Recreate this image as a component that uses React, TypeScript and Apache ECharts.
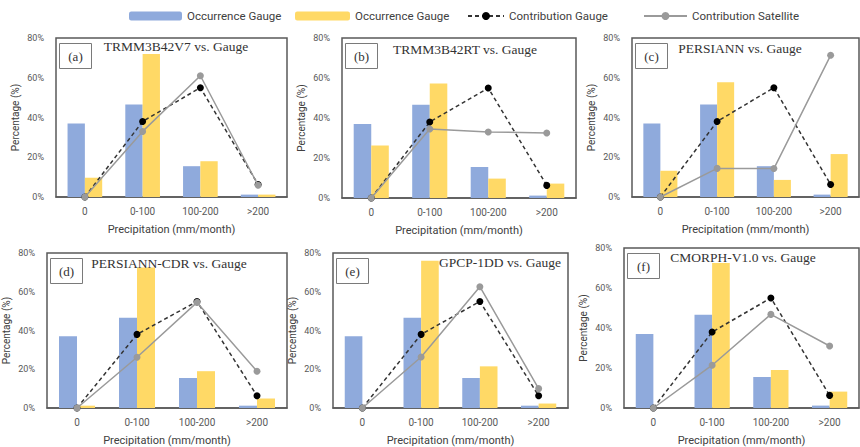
import React, { useEffect, useRef } from 'react';
import * as echarts from 'echarts';

const CATEGORIES = ['0', '0-100', '100-200', '>200'];

const OCCURRENCE_GAUGE = [37, 46.6, 15.5, 1.2];
const CONTRIBUTION_GAUGE = [0, 38, 55, 6.3];

const OCC_SAT_A = [9.7, 72, 18, 1.2];
const OCC_SAT_B = [26.3, 57.3, 9.7, 7.2];
const OCC_SAT_C = [13.2, 57.7, 8.6, 21.6];
const OCC_SAT_D = [1.2, 72.5, 19, 4.9];
const OCC_SAT_E = [0, 76, 21.5, 2.3];
const OCC_SAT_F = [0, 72.5, 19, 8.2];

const CONTRIB_SAT_A = [0, 33, 61, 5.9];
const CONTRIB_SAT_B = [0, 34.5, 33, 32.5];
const CONTRIB_SAT_C = [0, 14.4, 14.3, 71.3];
const CONTRIB_SAT_D = [0, 26.2, 54.5, 19];
const CONTRIB_SAT_E = [0, 26.3, 62.6, 10];
const CONTRIB_SAT_F = [0, 21.4, 46.8, 31];

const PANEL_TAGS = ['(a)', '(b)', '(c)', '(d)', '(e)', '(f)'];
const PANEL_TITLES = [
  'TRMM3B42V7 vs. Gauge',
  'TRMM3B42RT vs. Gauge',
  'PERSIANN vs. Gauge',
  'PERSIANN-CDR vs. Gauge',
  'GPCP-1DD vs. Gauge',
  'CMORPH-V1.0 vs. Gauge',
];

const SERIES_NAMES = ['Occurrence Gauge', 'Occurrence Satellite', 'Contribution Gauge', 'Contribution Satellite'];
const LEGEND_LABELS = ['Occurrence Gauge', 'Occurrence Gauge', 'Contribution Gauge', 'Contribution Satellite'];

const Y_AXIS_TITLE = 'Percentage (%)';
const X_AXIS_TITLE = 'Precipitation (mm/month)';

const OCC_SAT = [OCC_SAT_A, OCC_SAT_B, OCC_SAT_C, OCC_SAT_D, OCC_SAT_E, OCC_SAT_F];
const CONTRIB_SAT = [CONTRIB_SAT_A, CONTRIB_SAT_B, CONTRIB_SAT_C, CONTRIB_SAT_D, CONTRIB_SAT_E, CONTRIB_SAT_F];

// layout (pixels)
const GRIDS = [
  { left: 56, top: 38, width: 231, height: 159 },
  { left: 342, top: 38, width: 234, height: 160 },
  { left: 632, top: 38, width: 227, height: 159 },
  { left: 47, top: 253, width: 240, height: 159 },
  { left: 333, top: 253, width: 235, height: 159 },
  { left: 624, top: 248, width: 235, height: 166 },
];
const TITLE_POS = [
  [176, 46],
  [465, 49],
  [740, 48],
  [169, 263],
  [500, 262],
  [743, 257],
];

const BLUE = '#8FAADC';
const YELLOW = '#FFD966';
const SANS = 'Roboto, "Liberation Sans", sans-serif';
const SERIF = '"Liberation Serif", "DejaVu Serif", serif';

export default function App() {
  const ref = useRef<HTMLDivElement>(null);

  useEffect(() => {
    if (!ref.current) return;
    const chart = echarts.init(ref.current, null, { renderer: 'svg' });

    const grid: any[] = [];
    const xAxis: any[] = [];
    const yAxis: any[] = [];
    const series: any[] = [];
    const graphic: any[] = [];

    GRIDS.forEach((g, i) => {
      grid.push({
        ...g,
        show: true,
        borderColor: '#5a5a5a',
        borderWidth: 1.5,
        backgroundColor: 'transparent',
      });
      xAxis.push({
        type: 'category',
        gridIndex: i,
        data: CATEGORIES,
        axisLine: { show: true, lineStyle: { color: '#5a5a5a', width: 1.5 } },
        axisTick: { show: false },
        axisLabel: { color: '#595959', fontSize: 10, fontFamily: SANS, margin: 9 },
        name: X_AXIS_TITLE,
        nameLocation: 'middle',
        nameGap: 27,
        nameTextStyle: { color: '#404040', fontSize: 11, fontFamily: SANS },
      });
      yAxis.push({
        type: 'value',
        gridIndex: i,
        min: 0,
        max: 80,
        interval: 20,
        splitLine: { show: false },
        axisLine: { show: false },
        axisTick: { show: false },
        axisLabel: { color: '#595959', fontSize: 9, fontFamily: SANS, margin: 12, formatter: '{value}%' },
        name: Y_AXIS_TITLE,
        nameLocation: 'middle',
        nameGap: 36,
        nameTextStyle: { color: '#404040', fontSize: 10, fontFamily: SANS },
      });
      series.push({
        type: 'bar',
        name: SERIES_NAMES[0],
        xAxisIndex: i,
        yAxisIndex: i,
        data: OCCURRENCE_GAUGE,
        barGap: '0%',
        barCategoryGap: '40%',
        itemStyle: { color: BLUE },
      });
      series.push({
        type: 'bar',
        name: SERIES_NAMES[1],
        xAxisIndex: i,
        yAxisIndex: i,
        data: OCC_SAT[i],
        barGap: '0%',
        barCategoryGap: '40%',
        itemStyle: { color: YELLOW },
      });
      series.push({
        type: 'line',
        name: SERIES_NAMES[2],
        xAxisIndex: i,
        yAxisIndex: i,
        data: CONTRIBUTION_GAUGE,
        symbol: 'circle',
        symbolSize: 7,
        lineStyle: { color: '#333', width: 1.5, type: [4, 3] },
        itemStyle: { color: '#000' },
        z: 3,
      });
      series.push({
        type: 'line',
        name: SERIES_NAMES[3],
        xAxisIndex: i,
        yAxisIndex: i,
        data: CONTRIB_SAT[i],
        symbol: 'circle',
        symbolSize: 7,
        lineStyle: { color: '#9a9a9a', width: 1.5 },
        itemStyle: { color: '#9a9a9a' },
        z: 4,
      });

      graphic.push({
        type: 'group',
        left: g.left + 3,
        top: g.top + 5,
        children: [
          {
            type: 'rect',
            shape: { x: 0, y: 0, width: 32, height: 25 },
            style: { fill: '#fff', stroke: '#7a7a7a', lineWidth: 1 },
          },
          {
            type: 'text',
            x: 16,
            y: 12.5,
            style: {
              text: PANEL_TAGS[i],
              fill: '#333',
              font: `13px ${SERIF}`,
              textAlign: 'center',
              textVerticalAlign: 'middle',
            },
          },
        ],
      });
      graphic.push({
        type: 'text',
        x: TITLE_POS[i][0],
        y: TITLE_POS[i][1],
        style: {
          text: PANEL_TITLES[i],
          fill: '#333',
          font: `13.5px ${SERIF}`,
          textAlign: 'center',
          textVerticalAlign: 'middle',
        },
        z: 10,
      });
    });

    const legendText = { color: '#404040', fontSize: 11.5, fontFamily: SANS };
    const labelFor = (n: string) => LEGEND_LABELS[SERIES_NAMES.indexOf(n)] ?? n;
    const legend = [
      { left: 124, itemWidth: 53, itemHeight: 9, name: SERIES_NAMES[0] },
      { left: 290, itemWidth: 55, itemHeight: 9, name: SERIES_NAMES[1] },
      { left: 462, itemWidth: 36, itemHeight: 10, name: SERIES_NAMES[2] },
      { left: 638, itemWidth: 43, itemHeight: 10, name: SERIES_NAMES[3] },
    ].map((l) => ({
      left: l.left,
      top: 5,
      itemWidth: l.itemWidth,
      itemHeight: l.itemHeight,
      itemGap: 4,
      data: [l.name],
      textStyle: legendText,
      formatter: labelFor,
      selectedMode: false,
    }));

    chart.setOption({
      animation: false,
      backgroundColor: '#fff',
      legend,
      grid,
      xAxis,
      yAxis,
      series,
      graphic,
    });

    return () => chart.dispose();
  }, []);

  return (
    <div
      ref={ref}
      style={{ position: 'absolute', left: 0, top: 0, width: 860, height: 447 }}
    />
  );
}
